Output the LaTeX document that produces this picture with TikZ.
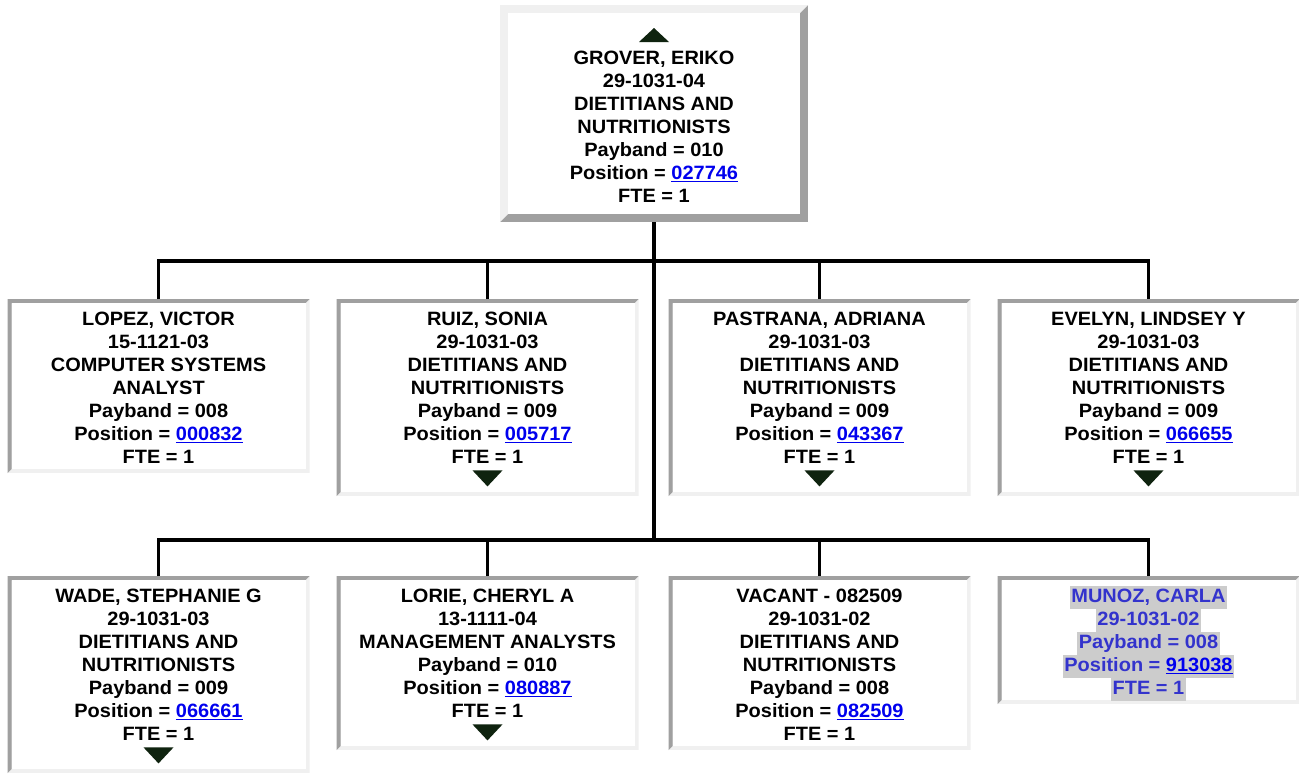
\documentclass[tikz,border=0pt]{standalone}
\usepackage{fontspec}
\setmainfont[FakeStretch=1.035]{Liberation Sans}
\usetikzlibrary{positioning}

\definecolor{bevellight}{HTML}{F0F0F0}
\definecolor{beveldark}{HTML}{A0A0A0}
\definecolor{linkblue}{HTML}{0000EE}
\definecolor{vacantblue}{HTML}{3333CC}
\definecolor{hlgray}{HTML}{CCCCCC}
\definecolor{tridark}{HTML}{0F230F}

\newcommand\plink[1]{{\color{linkblue}\setbox0\hbox{#1}\rlap{\rule[-3pt]{\wd0}{1.6pt}}\box0}}
\newcommand\topstrut{\rule{0pt}{26pt}}
\newcommand\botstrut{\rule[-10pt]{0pt}{10pt}}
\newcommand\hl[1]{{\fboxsep=1.5pt\colorbox{hlgray}{\rule[-5pt]{0pt}{20pt}#1}}}

\begin{document}
\begin{tikzpicture}[
    x=1pt, y=-1pt,
    orgbox/.style={fill=white, anchor=north, minimum width=302pt, inner xsep=4pt, inner ysep=0pt,
        align=center, font=\fontsize{19.3}{23}\selectfont\bfseries,
        path picture={
            \path (path picture bounding box.south west) coordinate (bsw)
                  (path picture bounding box.north east) coordinate (bne);
            \fill[bevellight] (bsw) rectangle (bne);
            \fill[beveldark] (bsw) |- (bne) -- ([xshift=-4pt,yshift=-4pt]bne) -| ([xshift=4pt,yshift=4pt]bsw) -- cycle;
            \fill[white] ([xshift=4pt,yshift=4pt]bsw) rectangle ([xshift=-4pt,yshift=-4pt]bne);
        }},
    headbox/.style={orgbox, minimum width=308pt, inner ysep=10pt,
        path picture={
            \path (path picture bounding box.south west) coordinate (bsw)
                  (path picture bounding box.north east) coordinate (bne);
            \fill[beveldark] (bsw) rectangle (bne);
            \fill[bevellight] (bsw) |- (bne) -- ([xshift=-8pt,yshift=-8pt]bne) -| ([xshift=8pt,yshift=8pt]bsw) -- cycle;
            \fill[white] ([xshift=8pt,yshift=8pt]bsw) rectangle ([xshift=-8pt,yshift=-8pt]bne);
        }},
    link/.style={line width=3.5pt},
    tri/.style={fill=tridark},
]
\fill[white] (0,0) rectangle (1299,774);
\useasboundingbox (0,0) rectangle (1299,774);

% head
\node[headbox] (grover) at (654,5) {\topstrut\\GROVER, ERIKO\\29-1031-04\\DIETITIANS AND\\NUTRITIONISTS\\Payband = 010\\Position = \plink{027746}\\FTE = 1\botstrut};

% first row
\node[orgbox] (lopez) at (158.5,299) {\topstrut LOPEZ, VICTOR\\15-1121-03\\COMPUTER SYSTEMS\\ANALYST\\Payband = 008\\Position = \plink{000832}\\FTE = 1\botstrut};
\node[orgbox] (ruiz) at (487.5,299) {\topstrut RUIZ, SONIA\\29-1031-03\\DIETITIANS AND\\NUTRITIONISTS\\Payband = 009\\Position = \plink{005717}\\FTE = 1\\\botstrut};
\node[orgbox] (pastrana) at (819.5,299) {\topstrut PASTRANA, ADRIANA\\29-1031-03\\DIETITIANS AND\\NUTRITIONISTS\\Payband = 009\\Position = \plink{043367}\\FTE = 1\\\botstrut};
\node[orgbox] (evelyn) at (1148.5,299) {\topstrut EVELYN, LINDSEY Y\\29-1031-03\\DIETITIANS AND\\NUTRITIONISTS\\Payband = 009\\Position = \plink{066655}\\FTE = 1\\\botstrut};

% second row
\node[orgbox] (wade) at (158.5,576) {\topstrut WADE, STEPHANIE G\\29-1031-03\\DIETITIANS AND\\NUTRITIONISTS\\Payband = 009\\Position = \plink{066661}\\FTE = 1\\\botstrut};
\node[orgbox] (lorie) at (487.5,576) {\topstrut LORIE, CHERYL A\\13-1111-04\\MANAGEMENT ANALYSTS\\Payband = 010\\Position = \plink{080887}\\FTE = 1\\\botstrut};
\node[orgbox] (vacant) at (819.5,576) {\topstrut VACANT - 082509\\29-1031-02\\DIETITIANS AND\\NUTRITIONISTS\\Payband = 008\\Position = \plink{082509}\\FTE = 1\botstrut};
\node[orgbox, text=vacantblue] (munoz) at (1148.5,576) {\topstrut\hl{MUNOZ, CARLA}\\\hl{29-1031-02}\\\hl{Payband = 008}\\\hl{Position = \plink{913038}}\\\hl{FTE = 1}\botstrut};

% expand / collapse marks
\fill[tri] ([yshift=-23pt]grover.north) -- ([xshift=-15pt,yshift=-37pt]grover.north) -- ([xshift=15pt,yshift=-37pt]grover.north) -- cycle;
\foreach \n in {ruiz,pastrana,evelyn,wade,lorie}
    \fill[tri] ([xshift=-15pt,yshift=26pt]\n.south) -- ([xshift=15pt,yshift=26pt]\n.south) -- ([yshift=10pt]\n.south) -- cycle;

% connectors
\coordinate (busA) at (654,261);
\coordinate (busB) at (654,540);
\draw[link] (grover.south) -- (busB);
\draw[link] (lopez.north) |- (busA) -| (evelyn.north);
\draw[link] (ruiz.north) -- (ruiz.north |- busA);
\draw[link] (pastrana.north) -- (pastrana.north |- busA);
\draw[link] (wade.north) |- (busB) -| (munoz.north);
\draw[link] (lorie.north) -- (lorie.north |- busB);
\draw[link] (vacant.north) -- (vacant.north |- busB);
\end{tikzpicture}
\end{document}
